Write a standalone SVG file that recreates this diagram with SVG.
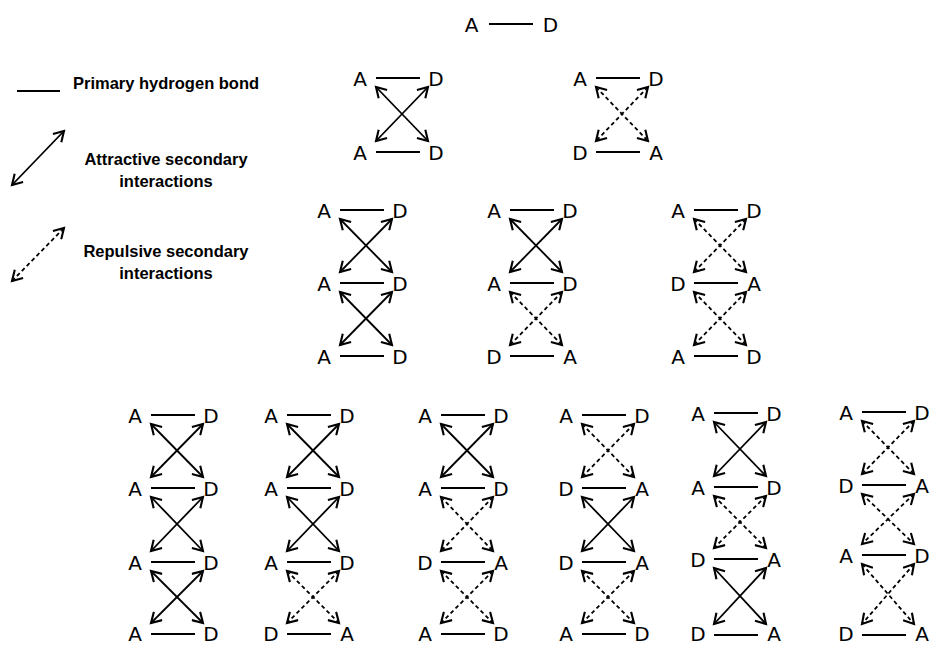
<svg xmlns="http://www.w3.org/2000/svg" width="930" height="645" viewBox="0 0 930 645">
<style>
.t{font-family:"DejaVu Sans",sans-serif;font-size:20px;fill:#000;text-anchor:middle}
.lg{font-family:"Liberation Sans",Arial,sans-serif;font-size:16.5px;font-weight:bold;fill:#000}
.b{stroke:#000;stroke-width:2;fill:none}
.s{stroke:#000;stroke-width:1.8;fill:none;marker-start:url(#ah);marker-end:url(#ah)}
.d{stroke:#000;stroke-width:1.8;fill:none;stroke-dasharray:4 3;marker-start:url(#ah);marker-end:url(#ah)}
</style>
<defs>
<marker id="ah" markerUnits="userSpaceOnUse" markerWidth="14" markerHeight="14" viewBox="-10 -6 12 12" refX="0" refY="0" orient="auto-start-reverse">
<path d="M-8.5,-5 L0,0 L-8.5,5" fill="none" stroke="#000" stroke-width="1.8"/>
</marker>
</defs>
<rect width="930" height="645" fill="#fff"/>

<g id="legend">
<line class="b" x1="17" y1="91" x2="60" y2="91"/>
<text class="lg" x="73" y="89">Primary hydrogen bond</text>
<text class="lg" x="166" y="165" text-anchor="middle">Attractive secondary</text>
<text class="lg" x="166" y="187" text-anchor="middle">interactions</text>
<text class="lg" x="166" y="257" text-anchor="middle">Repulsive secondary</text>
<text class="lg" x="166" y="279" text-anchor="middle">interactions</text>
</g>

<g id="single">
<text class="t" x="471.5" y="32">A</text><line class="b" x1="489" y1="24" x2="533" y2="24"/><text class="t" x="550.5" y="32">D</text>
</g>

<g id="pair-1">
<text class="t" x="360" y="86">A</text><line class="b" x1="376" y1="78" x2="420" y2="78"/><text class="t" x="436" y="86">D</text>
<text class="t" x="360" y="160">A</text><line class="b" x1="376" y1="152" x2="420" y2="152"/><text class="t" x="436" y="160">D</text>
</g>
<g id="pair-2">
<text class="t" x="580" y="86">A</text><line class="b" x1="596" y1="78" x2="640" y2="78"/><text class="t" x="656" y="86">D</text>
<text class="t" x="580" y="160">D</text><line class="b" x1="596" y1="152" x2="640" y2="152"/><text class="t" x="656" y="160">A</text>
</g>

<g id="triple-1">
<text class="t" x="324" y="218">A</text><line class="b" x1="340" y1="210" x2="384" y2="210"/><text class="t" x="400" y="218">D</text>
<text class="t" x="324" y="291">A</text><line class="b" x1="340" y1="283" x2="384" y2="283"/><text class="t" x="400" y="291">D</text>
<text class="t" x="324" y="364">A</text><line class="b" x1="340" y1="356" x2="384" y2="356"/><text class="t" x="400" y="364">D</text>
</g>
<g id="triple-2">
<text class="t" x="494" y="218">A</text><line class="b" x1="510" y1="210" x2="554" y2="210"/><text class="t" x="570" y="218">D</text>
<text class="t" x="494" y="291">A</text><line class="b" x1="510" y1="283" x2="554" y2="283"/><text class="t" x="570" y="291">D</text>
<text class="t" x="494" y="364">D</text><line class="b" x1="510" y1="356" x2="554" y2="356"/><text class="t" x="570" y="364">A</text>
</g>
<g id="triple-3">
<text class="t" x="678" y="218">A</text><line class="b" x1="694" y1="210" x2="738" y2="210"/><text class="t" x="754" y="218">D</text>
<text class="t" x="678" y="291">D</text><line class="b" x1="694" y1="283" x2="738" y2="283"/><text class="t" x="754" y="291">A</text>
<text class="t" x="678" y="364">A</text><line class="b" x1="694" y1="356" x2="738" y2="356"/><text class="t" x="754" y="364">D</text>
</g>

<g id="quad-1">
<text class="t" x="135" y="423">A</text><line class="b" x1="151" y1="415" x2="195" y2="415"/><text class="t" x="211" y="423">D</text>
<text class="t" x="135" y="496">A</text><line class="b" x1="151" y1="488" x2="195" y2="488"/><text class="t" x="211" y="496">D</text>
<text class="t" x="135" y="570">A</text><line class="b" x1="151" y1="562" x2="195" y2="562"/><text class="t" x="211" y="570">D</text>
<text class="t" x="135" y="641">A</text><line class="b" x1="151" y1="634" x2="195" y2="634"/><text class="t" x="211" y="641">D</text>
</g>
<g id="quad-2">
<text class="t" x="271" y="423">A</text><line class="b" x1="287" y1="415" x2="331" y2="415"/><text class="t" x="347" y="423">D</text>
<text class="t" x="271" y="496">A</text><line class="b" x1="287" y1="488" x2="331" y2="488"/><text class="t" x="347" y="496">D</text>
<text class="t" x="271" y="570">A</text><line class="b" x1="287" y1="562" x2="331" y2="562"/><text class="t" x="347" y="570">D</text>
<text class="t" x="271" y="641">D</text><line class="b" x1="287" y1="634" x2="331" y2="634"/><text class="t" x="347" y="641">A</text>
</g>
<g id="quad-3">
<text class="t" x="425" y="423">A</text><line class="b" x1="441" y1="415" x2="485" y2="415"/><text class="t" x="501" y="423">D</text>
<text class="t" x="425" y="496">A</text><line class="b" x1="441" y1="488" x2="485" y2="488"/><text class="t" x="501" y="496">D</text>
<text class="t" x="425" y="570">D</text><line class="b" x1="441" y1="562" x2="485" y2="562"/><text class="t" x="501" y="570">A</text>
<text class="t" x="425" y="641">A</text><line class="b" x1="441" y1="634" x2="485" y2="634"/><text class="t" x="501" y="641">D</text>
</g>
<g id="quad-4">
<text class="t" x="566" y="423">A</text><line class="b" x1="582" y1="415" x2="626" y2="415"/><text class="t" x="642" y="423">D</text>
<text class="t" x="566" y="496">D</text><line class="b" x1="582" y1="488" x2="626" y2="488"/><text class="t" x="642" y="496">A</text>
<text class="t" x="566" y="570">D</text><line class="b" x1="582" y1="562" x2="626" y2="562"/><text class="t" x="642" y="570">A</text>
<text class="t" x="566" y="641">A</text><line class="b" x1="582" y1="634" x2="626" y2="634"/><text class="t" x="642" y="641">D</text>
</g>
<g id="quad-5">
<text class="t" x="698" y="421">A</text><line class="b" x1="714" y1="413" x2="758" y2="413"/><text class="t" x="774" y="421">D</text>
<text class="t" x="698" y="495">A</text><line class="b" x1="714" y1="487" x2="758" y2="487"/><text class="t" x="774" y="495">D</text>
<text class="t" x="698" y="567">D</text><line class="b" x1="714" y1="559" x2="758" y2="559"/><text class="t" x="774" y="567">A</text>
<text class="t" x="698" y="641">D</text><line class="b" x1="714" y1="635" x2="758" y2="635"/><text class="t" x="774" y="641">A</text>
</g>
<g id="quad-6">
<text class="t" x="846" y="420">A</text><line class="b" x1="862" y1="412" x2="906" y2="412"/><text class="t" x="922" y="420">D</text>
<text class="t" x="846" y="493">D</text><line class="b" x1="862" y1="485" x2="906" y2="485"/><text class="t" x="922" y="493">A</text>
<text class="t" x="846" y="563">A</text><line class="b" x1="862" y1="555" x2="906" y2="555"/><text class="t" x="922" y="563">D</text>
<text class="t" x="846" y="641">D</text><line class="b" x1="862" y1="635" x2="906" y2="635"/><text class="t" x="922" y="641">A</text>
</g>

<g id="connectors">
<line class="s" x1="12" y1="185" x2="64" y2="131"/>
<line class="d" x1="12" y1="281" x2="64" y2="228"/>

<line class="s" x1="376" y1="87" x2="428" y2="141"/><line class="s" x1="428" y1="87" x2="376" y2="141"/>
<line class="d" x1="596" y1="87" x2="648" y2="141"/><line class="d" x1="648" y1="87" x2="596" y2="141"/>

<line class="s" x1="340" y1="219" x2="392" y2="272"/><line class="s" x1="392" y1="219" x2="340" y2="272"/>
<line class="s" x1="340" y1="292" x2="392" y2="345"/><line class="s" x1="392" y1="292" x2="340" y2="345"/>

<line class="s" x1="510" y1="219" x2="562" y2="272"/><line class="s" x1="562" y1="219" x2="510" y2="272"/>
<line class="d" x1="510" y1="292" x2="562" y2="345"/><line class="d" x1="562" y1="292" x2="510" y2="345"/>

<line class="d" x1="694" y1="219" x2="746" y2="272"/><line class="d" x1="746" y1="219" x2="694" y2="272"/>
<line class="d" x1="694" y1="292" x2="746" y2="345"/><line class="d" x1="746" y1="292" x2="694" y2="345"/>

<line class="s" x1="151" y1="424" x2="203" y2="477"/><line class="s" x1="203" y1="424" x2="151" y2="477"/>
<line class="s" x1="151" y1="497" x2="203" y2="551"/><line class="s" x1="203" y1="497" x2="151" y2="551"/>
<line class="s" x1="151" y1="571" x2="203" y2="623"/><line class="s" x1="203" y1="571" x2="151" y2="623"/>

<line class="s" x1="287" y1="424" x2="339" y2="477"/><line class="s" x1="339" y1="424" x2="287" y2="477"/>
<line class="s" x1="287" y1="497" x2="339" y2="551"/><line class="s" x1="339" y1="497" x2="287" y2="551"/>
<line class="d" x1="287" y1="571" x2="339" y2="623"/><line class="d" x1="339" y1="571" x2="287" y2="623"/>

<line class="s" x1="441" y1="424" x2="493" y2="477"/><line class="s" x1="493" y1="424" x2="441" y2="477"/>
<line class="d" x1="441" y1="497" x2="493" y2="551"/><line class="d" x1="493" y1="497" x2="441" y2="551"/>
<line class="d" x1="441" y1="571" x2="493" y2="623"/><line class="d" x1="493" y1="571" x2="441" y2="623"/>

<line class="d" x1="582" y1="424" x2="634" y2="477"/><line class="d" x1="634" y1="424" x2="582" y2="477"/>
<line class="s" x1="582" y1="497" x2="634" y2="551"/><line class="s" x1="634" y1="497" x2="582" y2="551"/>
<line class="d" x1="582" y1="571" x2="634" y2="623"/><line class="d" x1="634" y1="571" x2="582" y2="623"/>

<line class="s" x1="714" y1="422" x2="766" y2="476"/><line class="s" x1="766" y1="422" x2="714" y2="476"/>
<line class="d" x1="714" y1="496" x2="766" y2="548"/><line class="d" x1="766" y1="496" x2="714" y2="548"/>
<line class="s" x1="714" y1="568" x2="766" y2="624"/><line class="s" x1="766" y1="568" x2="714" y2="624"/>

<line class="d" x1="862" y1="421" x2="914" y2="474"/><line class="d" x1="914" y1="421" x2="862" y2="474"/>
<line class="d" x1="862" y1="494" x2="914" y2="544"/><line class="d" x1="914" y1="494" x2="862" y2="544"/>
<line class="d" x1="862" y1="564" x2="914" y2="624"/><line class="d" x1="914" y1="564" x2="862" y2="624"/>
</g>
</svg>
